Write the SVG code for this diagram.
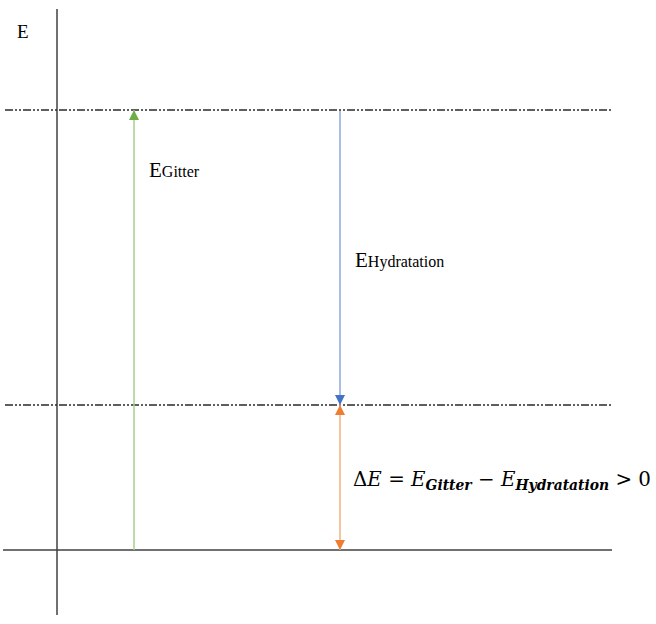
<svg xmlns="http://www.w3.org/2000/svg" width="656" height="624" viewBox="0 0 656 624">
<style>
.ax{stroke:#404040;stroke-width:1.5;fill:none}
.lvl{stroke:#2a2a2a;stroke-width:1.3;stroke-dasharray:8 2 2 2 2 2;fill:none}
.t{font-family:"Liberation Serif",serif;fill:#000}
.sub{font-style:italic;font-weight:bold;font-size:14px}
</style>
<defs>
<marker id="hg" viewBox="0 0 10 10" refX="10" refY="5" markerWidth="10" markerHeight="10" markerUnits="userSpaceOnUse" orient="auto"><path d="M0,0L10,5L0,10z" fill="#70AD47"/></marker>
<marker id="hb" viewBox="0 0 10 10" refX="10" refY="5" markerWidth="10" markerHeight="10" markerUnits="userSpaceOnUse" orient="auto"><path d="M0,0L10,5L0,10z" fill="#4472C4"/></marker>
<marker id="ho" viewBox="0 0 10 10" refX="10" refY="5" markerWidth="10" markerHeight="10" markerUnits="userSpaceOnUse" orient="auto"><path d="M0,0L10,5L0,10z" fill="#ED7D31"/></marker>
<marker id="hos" viewBox="0 0 10 10" refX="10" refY="5" markerWidth="10" markerHeight="10" markerUnits="userSpaceOnUse" orient="auto-start-reverse"><path d="M0,0L10,5L0,10z" fill="#ED7D31"/></marker>
</defs>
<g id="axes">
<line class="ax" x1="57" y1="9" x2="57" y2="615"/>
<line class="ax" x1="3" y1="550" x2="612" y2="550"/>
</g>
<g id="levels">
<line class="lvl" x1="5" y1="110" x2="612" y2="110"/>
<line class="lvl" x1="5" y1="405" x2="612" y2="405"/>
</g>
<g id="connectors">
<line x1="134" y1="550" x2="134" y2="110" stroke="#A9D18E" stroke-width="1.5" marker-end="url(#hg)"/>
<line x1="340" y1="111" x2="340" y2="405" stroke="#8FAADC" stroke-width="1.5" marker-end="url(#hb)"/>
<line x1="340" y1="405" x2="340" y2="550" stroke="#F4B183" stroke-width="1.5" marker-start="url(#hos)" marker-end="url(#ho)"/>
</g>
<g id="label-E"><text class="t" x="17" y="38" font-size="19">E</text></g>
<g id="label-gitter"><text class="t" x="149" y="177" font-size="21">E<tspan font-size="16">Gitter</tspan></text></g>
<g id="label-hydratation"><text class="t" x="355" y="267" font-size="21">E<tspan font-size="16">Hydratation</tspan></text></g>
<g id="label-deltaE">
<text x="353" y="486" font-size="20" font-family="DejaVu Serif,Liberation Serif,serif" fill="#000" textLength="298" lengthAdjust="spacingAndGlyphs">Δ<tspan font-style="italic">E</tspan> = <tspan font-style="italic">E</tspan><tspan class="sub" dy="4">Gitter</tspan><tspan dy="-4"> − </tspan><tspan font-style="italic">E</tspan><tspan class="sub" dy="4">Hydratation</tspan><tspan dy="-4"> &gt; 0</tspan></text>
</g>
</svg>
